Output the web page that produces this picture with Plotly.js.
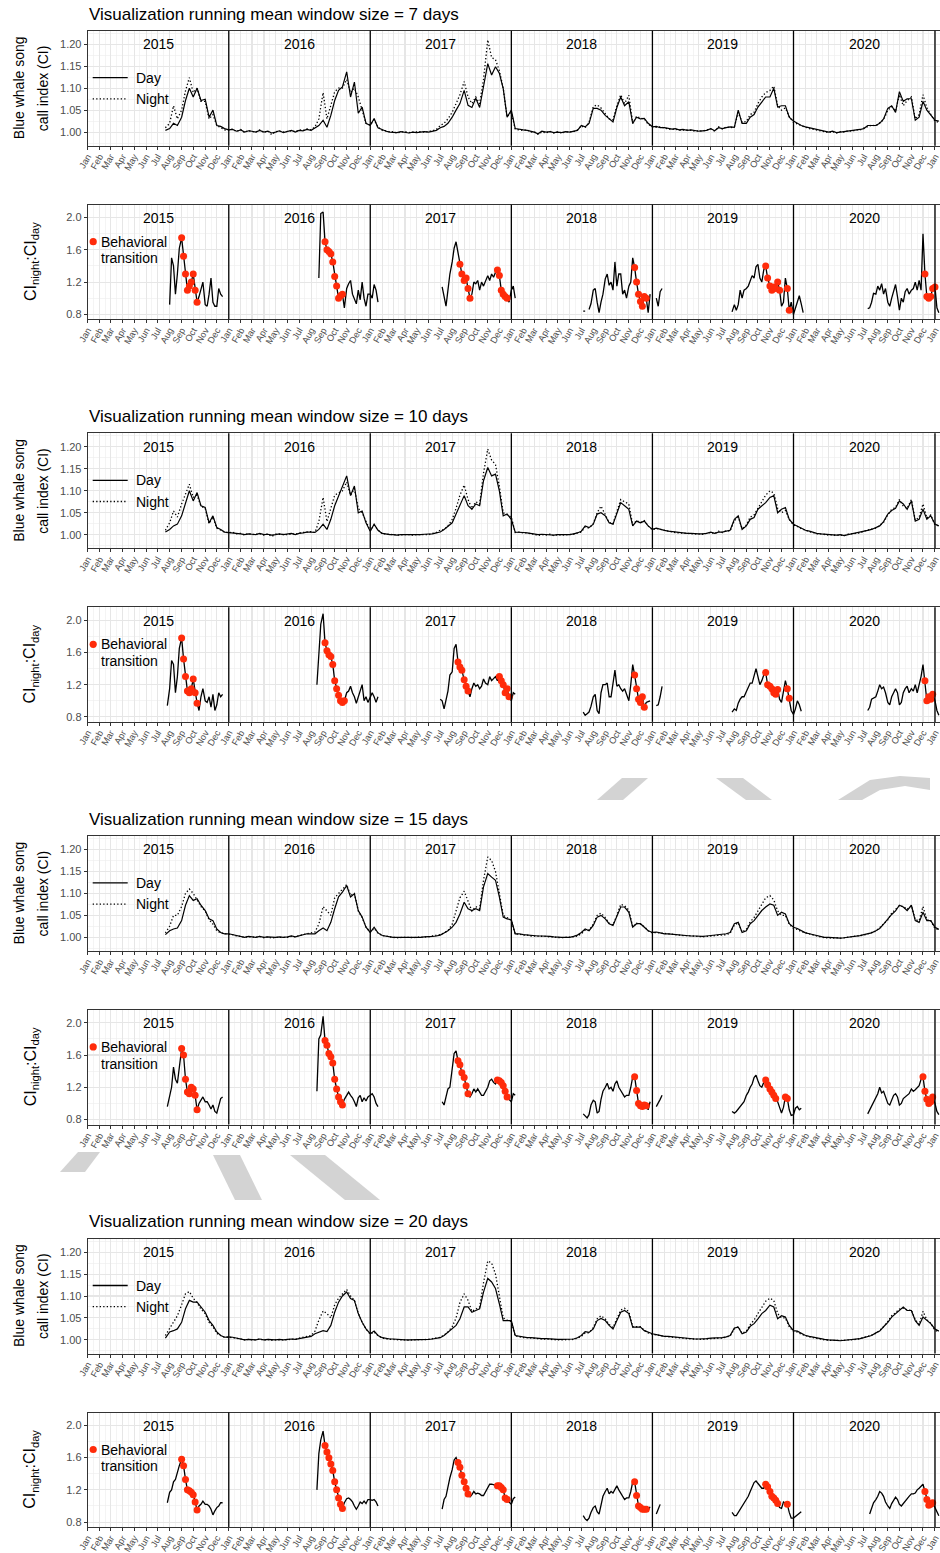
<!DOCTYPE html>
<html><head><meta charset="utf-8">
<script src="https://cdn.plot.ly/plotly-3.0.1.min.js"></script>
<style>html,body{margin:0;padding:0;background:#fff}#chart{width:940px;height:1553px}</style>
</head><body><div id="chart"></div>
<script>
const n = null;
const windowSizes = [7, 10, 15, 20];
const years = [2015, 2016, 2017, 2018, 2019, 2020];
const monthNames = ['Jan','Feb','Mar','Apr','May','Jun','Jul','Aug','Sep','Oct','Nov','Dec'];

// CI values sampled on the 1st, 11th and 21st of every month (Jan 2015 .. Dec 2020), then 2021-01-01, 2021-01-11
const ci7Day = [
n,n,n,n,n,n,n,n,n,n,n,n,n,n,n,n,n,n, n,n,1.004, 1.008,1.02,1.015, 1.034,1.072,1.10, 1.08,1.10,1.072, 1.075,1.034,1.05, 1.015,1.013,1.008,
1.005,1.006,1.002, 1.005,1.0,1.003, 1.002,1.0,1.004, 1.0,1.002,0.998, 1.0,1.003,0.999, 1.001,1.004,1.0, 1.004,1.003,1.006, 1.004,1.01,1.015, 1.027,1.011,1.038, 1.072,1.095,1.103, 1.137,1.08,1.114, 1.043,1.057,1.02,
1.015,1.031,1.01, 1.005,1.002,1.0, 1.0,0.999,1.001, 1.0,0.998,1.0, 0.999,1.0,1.001, 1.0,1.002,1.004, 1.01,1.013,1.02, 1.034,1.05,1.065, 1.095,1.061,1.056, 1.077,1.056,1.103, 1.156,1.13,1.149, 1.134,1.099,1.034,
1.05,1.008,1.006, 1.005,1.004,1.002, 1.0,0.996,1.002, 1.0,1.001,0.999, 1.0,0.999,1.001, 1.0,1.002,1.004, 1.015,1.012,1.02, 1.054,1.054,1.05, 1.038,1.03,1.023, 1.056,1.08,1.06, 1.069,1.02,1.034, 1.03,1.031,1.02,
1.012,1.013,1.01, 1.01,1.008,1.007, 1.008,1.005,1.006, 1.004,1.005,1.003, 1.002,1.003,1.004, 1.008,1.003,1.01, 1.008,1.01,1.012, 1.011,1.05,1.02, 1.02,1.034,1.04, 1.057,1.07,1.08, 1.08,1.10,1.057, 1.06,1.06,1.034,
1.025,1.02,1.015, 1.012,1.01,1.008, 1.005,1.003,1.002, 1.0,1.002,0.999, 1.0,1.001,1.002, 1.003,1.004,1.006, 1.008,1.015,1.015, 1.015,1.02,1.03, 1.054,1.06,1.045, 1.092,1.07,1.076, 1.076,1.027,1.034, 1.07,1.05,1.04,
1.027,1.025];
const ci7Night = [
n,n,n,n,n,n,n,n,n,n,n,n,n,n,n,n,n,n, n,n,1.01, 1.02,1.06,1.03, 1.05,1.094,1.124, 1.09,1.10,1.07, 1.07,1.03,1.04, 1.015,1.01,1.005,
1.004,1.007,1.001, 1.006,0.999,1.004, 1.001,1.0,1.005, 0.999,1.003,0.994, 1.001,1.002,1.0, 1.002,1.003,1.001, 1.005,1.004,1.007, 1.005,1.012,1.03, 1.09,1.03,1.06, 1.092,1.10,1.10, 1.12,1.09,1.10, 1.08,1.05,1.02,
1.016,1.028,1.011, 1.004,1.003,1.0, 1.001,0.998,1.0, 1.001,0.999,1.0, 1.0,1.001,1.0, 1.001,1.003,1.006, 1.015,1.02,1.03, 1.045,1.065,1.085, 1.115,1.08,1.065, 1.08,1.065,1.12, 1.21,1.17,1.165, 1.14,1.10,1.035,
1.045,1.007,1.005, 1.004,1.005,1.0, 1.001,0.995,1.0, 0.998,1.002,0.998, 1.001,0.998,1.0, 1.001,1.001,1.005, 1.014,1.01,1.022, 1.058,1.062,1.055, 1.042,1.03,1.028, 1.06,1.085,1.065, 1.084,1.02,1.036, 1.032,1.03,1.018,
1.012,1.011,1.012, 1.009,1.007,1.006, 1.007,1.004,1.005, 1.005,1.004,1.002, 1.003,1.002,1.005, 1.007,1.002,1.012, 1.007,1.012,1.01, 1.012,1.045,1.022, 1.024,1.04,1.045, 1.065,1.08,1.09, 1.095,1.105,1.06, 1.05,1.055,1.035,
1.022,1.018,1.014, 1.011,1.008,1.006, 1.004,1.002,1.0, 0.999,1.001,0.998, 1.001,1.0,1.003, 1.002,1.005,1.005, 1.009,1.013,1.016, 1.014,1.022,1.028, 1.05,1.058,1.048, 1.085,1.06,1.072, 1.08,1.03,1.04, 1.085,1.055,1.042,
1.025,1.022];
const ci10Day = [
n,n,n,n,n,n,n,n,n,n,n,n,n,n,n,n,n,n, n,n,1.006, 1.012,1.02,1.024, 1.043,1.073,1.10, 1.077,1.096,1.066, 1.062,1.027,1.043, 1.016,1.012,1.006,
1.005,1.005,1.003, 1.002,1.0,1.002, 1.001,1.0,1.003, 1.0,1.001,0.999, 1.0,1.002,1.0, 1.001,1.003,1.0, 1.003,1.004,1.006, 1.006,1.005,1.012, 1.024,1.012,1.035, 1.066,1.089,1.108, 1.134,1.089,1.111, 1.05,1.054,1.027,
1.008,1.024,1.01, 1.003,1.001,1.0, 1.0,0.999,1.0, 1.0,0.999,1.0, 1.0,1.0,1.001, 1.001,1.002,1.004, 1.006,1.012,1.02, 1.027,1.047,1.066, 1.089,1.066,1.058, 1.07,1.066,1.123, 1.153,1.134,1.138, 1.10,1.043,1.047,
1.035,1.006,1.006, 1.005,1.004,1.003, 1.002,1.0,1.001, 1.0,1.0,0.999, 1.0,1.0,1.001, 1.0,1.002,1.004, 1.008,1.02,1.016, 1.024,1.047,1.05, 1.043,1.027,1.024, 1.047,1.073,1.066, 1.058,1.02,1.031, 1.027,1.031,1.02,
1.012,1.015,1.012, 1.01,1.008,1.007, 1.005,1.005,1.004, 1.003,1.003,1.002, 1.002,1.002,1.003, 1.006,1.003,1.006, 1.006,1.008,1.01, 1.035,1.043,1.012, 1.02,1.035,1.039, 1.058,1.066,1.073, 1.085,1.089,1.05, 1.058,1.062,1.035,
1.024,1.02,1.015, 1.01,1.008,1.005, 1.003,1.002,1.001, 1.0,1.0,0.999, 1.0,0.998,1.0, 1.002,1.003,1.005, 1.008,1.01,1.012, 1.016,1.02,1.03, 1.047,1.055,1.06, 1.077,1.07,1.058, 1.077,1.031,1.035, 1.058,1.035,1.043,
1.024,1.02];
const ci10Night = [
n,n,n,n,n,n,n,n,n,n,n,n,n,n,n,n,n,n, n,n,1.01, 1.027,1.054,1.04, 1.07,1.092,1.115, 1.085,1.09,1.065, 1.06,1.025,1.04, 1.015,1.01,1.006,
1.004,1.006,1.002, 1.003,0.999,1.003, 1.0,1.001,1.002, 0.999,1.002,0.996, 1.001,1.001,1.0, 1.0,1.002,1.001, 1.004,1.005,1.005, 1.007,1.005,1.03, 1.085,1.03,1.06, 1.09,1.095,1.10, 1.12,1.09,1.105, 1.06,1.05,1.03,
1.009,1.022,1.011, 1.002,1.002,1.0, 1.001,0.999,1.0, 1.0,1.0,0.999, 1.0,1.0,1.0, 1.0,1.003,1.005, 1.01,1.012,1.02, 1.035,1.06,1.09, 1.113,1.08,1.06, 1.075,1.07,1.14, 1.195,1.17,1.16, 1.11,1.05,1.045,
1.04,1.005,1.006, 1.004,1.004,1.002, 1.001,0.998,1.0, 0.999,1.001,0.998, 1.0,0.999,1.0, 1.0,1.001,1.004, 1.006,1.018,1.015, 1.025,1.05,1.065, 1.045,1.028,1.025, 1.05,1.08,1.075, 1.07,1.022,1.032, 1.028,1.032,1.02,
1.011,1.014,1.012, 1.009,1.007,1.006, 1.005,1.004,1.004, 1.003,1.002,1.002, 1.002,1.001,1.003, 1.005,1.002,1.008, 1.005,1.009,1.008, 1.032,1.04,1.014, 1.022,1.04,1.045, 1.06,1.075,1.09, 1.10,1.095,1.06, 1.05,1.055,1.035,
1.022,1.019,1.014, 1.01,1.007,1.005, 1.002,1.002,1.0, 0.999,1.0,0.998, 0.999,0.998,1.001, 1.002,1.004,1.004, 1.008,1.011,1.013, 1.015,1.022,1.028, 1.045,1.058,1.062, 1.08,1.065,1.06, 1.08,1.033,1.04, 1.07,1.038,1.045,
1.022,1.02];
const ci15Day = [
n,n,n,n,n,n,n,n,n,n,n,n,n,n,n,n,n,n, n,n,1.006, 1.015,1.019,1.021, 1.038,1.073,1.095, 1.084,1.088,1.073, 1.061,1.042,1.038, 1.019,1.011,1.008,
1.008,1.006,1.004, 1.002,1.0,1.002, 1.001,1.0,1.002, 1.0,1.001,1.0, 1.0,1.001,1.0, 1.001,1.003,1.001, 1.003,1.005,1.008, 1.008,1.008,1.015, 1.021,1.015,1.034, 1.065,1.092,1.103, 1.118,1.092,1.099, 1.061,1.046,1.023,
1.011,1.023,1.01, 1.004,1.002,1.001, 1.0,1.0,1.0, 1.0,0.999,1.0, 1.0,1.0,1.001, 1.001,1.002,1.003, 1.005,1.01,1.015, 1.023,1.034,1.053, 1.08,1.065,1.061, 1.065,1.061,1.115, 1.145,1.137,1.13, 1.092,1.046,1.042,
1.04,1.008,1.008, 1.006,1.005,1.004, 1.004,1.003,1.003, 1.003,1.002,1.001, 1.0,1.0,1.0, 1.0,1.002,1.005, 1.011,1.019,1.015, 1.027,1.046,1.05, 1.042,1.031,1.027, 1.046,1.069,1.069, 1.057,1.023,1.031, 1.031,1.023,1.015,
1.011,1.012,1.01, 1.008,1.008,1.007, 1.006,1.005,1.005, 1.004,1.003,1.003, 1.002,1.002,1.003, 1.004,1.004,1.005, 1.006,1.008,1.011, 1.031,1.034,1.011, 1.015,1.031,1.038, 1.05,1.061,1.069, 1.076,1.073,1.05, 1.057,1.053,1.031,
1.023,1.02,1.015, 1.01,1.008,1.006, 1.004,1.002,1.0, 1.0,0.999,0.999, 0.998,0.999,1.0, 1.002,1.003,1.004, 1.006,1.008,1.01, 1.015,1.02,1.03, 1.042,1.052,1.06, 1.073,1.069,1.061, 1.073,1.038,1.034, 1.057,1.038,1.038,
1.023,1.018];
const ci15Night = [
n,n,n,n,n,n,n,n,n,n,n,n,n,n,n,n,n,n, n,n,1.01, 1.025,1.05,1.05, 1.07,1.10,1.11, 1.10,1.085,1.07, 1.06,1.04,1.03, 1.015,1.01,1.008,
1.007,1.006,1.003, 1.002,1.0,1.001, 1.0,1.0,1.002, 0.999,1.001,0.998, 1.0,1.0,1.0, 1.0,1.002,1.001, 1.004,1.006,1.009, 1.01,1.012,1.03, 1.07,1.06,1.05, 1.09,1.10,1.11, 1.12,1.095,1.10, 1.06,1.045,1.023,
1.012,1.02,1.01, 1.004,1.002,1.0, 1.0,0.999,1.0, 1.0,1.0,0.999, 1.0,1.0,1.001, 1.001,1.003,1.004, 1.006,1.01,1.015, 1.03,1.06,1.09, 1.105,1.08,1.06, 1.07,1.065,1.13, 1.183,1.175,1.15, 1.10,1.05,1.045,
1.038,1.007,1.007, 1.005,1.005,1.003, 1.003,1.002,1.002, 1.002,1.001,1.0, 0.999,0.999,1.0, 1.0,1.001,1.003, 1.008,1.016,1.016, 1.03,1.05,1.055, 1.045,1.032,1.028, 1.05,1.075,1.072, 1.062,1.024,1.032, 1.03,1.024,1.015,
1.01,1.011,1.01, 1.008,1.007,1.006, 1.006,1.005,1.004, 1.004,1.003,1.002, 1.002,1.001,1.002, 1.003,1.003,1.004, 1.005,1.006,1.009, 1.028,1.033,1.012, 1.018,1.035,1.045, 1.06,1.075,1.09, 1.095,1.085,1.06, 1.05,1.05,1.03,
1.02,1.018,1.013, 1.01,1.007,1.005, 1.003,1.001,0.999, 0.999,0.998,0.999, 0.998,0.999,1.0, 1.001,1.002,1.004, 1.005,1.008,1.011, 1.014,1.022,1.03, 1.04,1.055,1.063, 1.072,1.07,1.064, 1.072,1.04,1.038, 1.07,1.04,1.038,
1.02,1.017];
const ci20Day = [
n,n,n,n,n,n,n,n,n,n,n,n,n,n,n,n,n,n, n,n,1.004, 1.018,1.021,1.025, 1.04,1.071,1.09, 1.086,1.086,1.075, 1.063,1.044,1.033, 1.018,1.01,1.006,
1.007,1.006,1.004, 1.002,1.0,1.001, 1.001,1.0,1.002, 1.0,1.001,1.0, 1.0,1.001,1.0, 1.001,1.002,1.001, 1.003,1.005,1.007, 1.008,1.014,1.018, 1.021,1.019,1.033, 1.063,1.086,1.10, 1.109,1.094,1.09, 1.06,1.04,1.025,
1.014,1.02,1.01, 1.005,1.003,1.002, 1.002,1.001,1.0, 1.0,1.0,1.0, 1.0,1.0,1.001, 1.001,1.002,1.003, 1.005,1.01,1.018, 1.025,1.033,1.048, 1.075,1.075,1.063, 1.067,1.071,1.109, 1.14,1.132,1.117, 1.082,1.044,1.044,
1.044,1.01,1.008, 1.006,1.005,1.005, 1.004,1.004,1.003, 1.003,1.002,1.002, 1.001,1.001,1.001, 1.001,1.002,1.005, 1.01,1.019,1.017, 1.025,1.044,1.049, 1.044,1.033,1.025, 1.044,1.063,1.067, 1.06,1.029,1.029, 1.029,1.021,1.017,
1.014,1.012,1.01, 1.008,1.008,1.007, 1.006,1.005,1.004, 1.003,1.003,1.002, 1.002,1.002,1.003, 1.004,1.004,1.004, 1.005,1.007,1.01, 1.027,1.029,1.014, 1.018,1.031,1.037, 1.048,1.06,1.067, 1.079,1.075,1.048, 1.055,1.052,1.033,
1.021,1.02,1.015, 1.01,1.008,1.006, 1.004,1.002,1.001, 1.0,1.0,0.999, 0.998,0.999,1.0, 1.0,1.002,1.003, 1.005,1.007,1.01, 1.016,1.02,1.03, 1.04,1.052,1.06, 1.067,1.075,1.067, 1.067,1.044,1.033, 1.052,1.044,1.037,
1.025,1.02];
const ci20Night = [
n,n,n,n,n,n,n,n,n,n,n,n,n,n,n,n,n,n, n,n,1.01, 1.025,1.04,1.055, 1.08,1.105,1.11, 1.095,1.085,1.07, 1.06,1.04,1.03, 1.015,1.01,1.006,
1.006,1.005,1.003, 1.002,1.0,1.001, 1.0,1.0,1.002, 0.999,1.001,0.999, 1.0,1.0,1.0, 1.0,1.002,1.001, 1.004,1.006,1.008, 1.01,1.02,1.045, 1.066,1.06,1.05, 1.08,1.095,1.105, 1.115,1.10,1.09, 1.06,1.04,1.025,
1.013,1.018,1.01, 1.004,1.002,1.001, 1.001,1.0,1.0, 1.0,0.999,1.0, 1.0,1.0,1.001, 1.001,1.003,1.004, 1.006,1.011,1.018, 1.03,1.05,1.085, 1.105,1.09,1.065, 1.07,1.075,1.13, 1.18,1.175,1.15, 1.10,1.05,1.045,
1.042,1.009,1.007, 1.005,1.005,1.004, 1.003,1.003,1.002, 1.002,1.001,1.001, 1.0,1.0,1.0, 1.0,1.001,1.004, 1.008,1.016,1.016, 1.028,1.048,1.055, 1.048,1.035,1.028, 1.048,1.068,1.072, 1.064,1.03,1.03, 1.03,1.022,1.016,
1.013,1.011,1.009, 1.008,1.007,1.006, 1.005,1.004,1.003, 1.003,1.002,1.002, 1.001,1.001,1.002, 1.003,1.003,1.004, 1.004,1.006,1.009, 1.025,1.03,1.015, 1.02,1.035,1.045, 1.06,1.075,1.088, 1.095,1.09,1.06, 1.05,1.05,1.03,
1.019,1.018,1.013, 1.009,1.007,1.005, 1.003,1.001,1.0, 0.999,0.999,0.998, 0.998,0.999,1.0, 1.0,1.001,1.003, 1.005,1.008,1.011, 1.015,1.022,1.03, 1.042,1.055,1.062, 1.07,1.072,1.068, 1.068,1.046,1.035, 1.065,1.046,1.038,
1.022,1.018];

// CI night : CI day, sampled every 5 days (1,6,11,16,21,26) from July of each year to January of the next
const ratio7 = [
n,n,n,n,n,n, 0.92,1.5,1.4,1.05,1.3,1.62, 1.75,1.52,1.3,1.1,1.15,1.2, 1.3,1.1,0.95,1.02,1.1,1.2, 0.92,0.9,1.05,1.25,0.95,0.9, 0.9,1.12,1.05,1.02,n,n, n,n,n,n,n,n,
n,n,n,n,n,n, n,n,n,n,1.25,2.05, 2.07,1.7,1.6,1.58,1.55,1.45, 1.27,1.15,1.0,1.03,1.05,0.88, 1.12,1.18,1.22,1.05,1.0,0.93, 1.1,0.98,1.2,1.0,0.9,1.05, 1.05,1.0,1.17,1.1,0.95,n,
n,1.14,1.0,0.9,1.1,1.3, 1.45,1.62,1.7,1.55,1.42,1.3, 1.22,1.25,1.12,1.0,1.05,1.2, 1.18,1.22,1.1,1.2,1.15,1.22, 1.28,1.22,1.3,1.26,1.32,1.35, 1.28,1.1,1.05,1.02,1.0,0.95, 1.1,1.15,1.0,n,n,n,
n,0.84,0.84,n,0.86,0.93, 1.1,1.12,0.95,0.82,0.95,1.05, 1.24,1.3,1.16,1.2,1.1,1.45, 1.15,1.3,1.3,1.05,1.1,1.0, 1.15,1.2,1.5,1.38,1.2,1.05, 0.96,0.9,1.02,1.0,0.82,1.05, n,n,1.0,0.9,1.08,1.12,
n,n,n,n,n,0.83, 0.92,0.85,0.92,1.1,1.0,1.1, 1.12,1.15,1.22,1.28,1.25,1.39, 1.42,1.25,1.2,1.35,1.4,1.25, 1.15,1.1,1.14,1.12,1.2,1.1, 0.9,0.95,1.25,1.12,0.85,0.95, 0.8,0.88,0.95,1.03,0.93,0.82,
n,n,0.87,0.88,0.95,1.06, 1.05,1.15,1.1,1.18,1.05,1.12, 0.95,0.9,1.0,1.1,1.17,1.02, 0.85,1.0,0.95,1.08,1.12,1.05, 1.1,1.12,1.2,1.1,1.22,1.1, 1.8,1.3,1.02,1.0,1.02,1.12, 1.14,0.88,0.82,n,n,n];
const ratio10 = [
n,n,n,n,n,0.94, 1.15,1.5,1.45,1.1,1.3,1.65, 1.78,1.52,1.3,1.12,1.1,1.15, 1.27,1.1,0.97,0.88,1.05,1.15, 1.0,0.98,1.05,0.92,1.08,0.88, 0.95,1.1,1.05,1.08,n,n, n,n,n,n,n,n,
n,n,n,n,n,n, n,n,n,1.2,1.6,1.95, 2.08,1.72,1.62,1.57,1.55,1.45, 1.25,1.15,1.07,1.0,0.98,1.0, 1.1,1.12,1.18,1.1,1.05,0.97, 1.05,1.1,1.2,1.0,1.05,0.98, 1.05,1.1,1.05,0.98,1.05,n,
1.02,1.0,0.9,1.0,1.12,1.32, 1.36,1.65,1.7,1.48,1.42,1.38, 1.26,1.18,1.12,1.05,1.15,1.22, 1.18,1.2,1.15,1.18,1.27,1.22, 1.2,1.3,1.25,1.28,1.3,1.25, 1.3,1.25,1.2,1.1,1.15,1.05, 1.0,1.1,1.08,n,n,n,
n,0.86,0.82,0.84,0.86,0.93, 1.05,1.08,0.88,0.84,1.1,1.2, 1.2,1.22,1.05,1.05,1.2,1.38, 1.18,1.2,1.15,1.12,1.15,1.08, 1.0,1.2,1.45,1.32,1.15,1.02, 0.98,1.05,0.92,0.98,0.99,1.0, n,n,0.94,0.95,1.05,1.18,
n,n,n,n,n,0.86, 0.9,0.88,0.97,1.02,1.05,1.05, 1.12,1.18,1.22,1.22,1.32,1.4, 1.3,1.2,1.25,1.32,1.35,1.2, 1.18,1.15,1.1,1.08,1.14,1.02, 0.98,1.1,1.25,1.15,1.03,0.88, 0.83,0.9,1.0,0.95,0.87,n,
n,n,0.88,0.92,1.02,1.03, 1.05,1.12,1.2,1.15,1.17,1.1, 0.98,0.95,1.05,1.1,1.15,1.1, 0.95,0.98,1.1,1.15,1.18,1.1, 1.15,1.12,1.2,1.1,1.2,1.3, 1.45,1.25,1.0,1.05,1.02,1.08, 1.0,0.88,0.82,n,n,n];
const ratio15 = [
n,n,n,n,n,0.96, 1.08,1.2,1.45,1.3,1.25,1.45, 1.68,1.6,1.3,1.14,1.12,1.2, 1.18,1.1,0.92,1.0,1.05,1.08, 1.02,1.02,0.98,0.93,0.98,0.9, 0.88,0.98,1.06,1.08,n,n, n,n,n,n,n,n,
n,n,n,n,n,n, n,n,n,1.15,1.8,1.85, 2.08,1.78,1.72,1.62,1.58,1.5, 1.3,1.18,1.08,1.02,0.98,1.05, 1.1,1.14,1.1,1.07,1.02,0.96, 1.07,1.1,1.02,1.07,1.03,1.08, 1.1,1.12,1.08,1.0,0.96,n,
n,1.02,0.98,1.08,1.18,1.2, 1.4,1.62,1.65,1.53,1.48,1.38, 1.32,1.22,1.12,1.08,1.12,1.18, 1.14,1.18,1.14,1.1,1.1,1.15, 1.2,1.28,1.3,1.26,1.24,1.29, 1.28,1.26,1.22,1.15,1.08,1.05, 1.02,1.12,1.1,n,n,n,
n,0.87,0.84,0.82,0.86,0.98, 1.04,1.02,0.88,0.9,1.05,1.15, 1.2,1.25,1.18,1.2,1.15,1.24, 1.28,1.2,1.16,1.12,1.08,1.1, 1.1,1.2,1.33,1.33,1.16,1.0, 0.97,0.96,0.98,0.97,0.92,1.02, n,n,0.96,1.0,1.05,1.1,
n,n,n,n,n,0.9, 0.88,0.9,0.93,0.96,0.98,1.02, 1.1,1.14,1.2,1.24,1.32,1.35, 1.28,1.22,1.2,1.26,1.29,1.23, 1.18,1.14,1.1,1.06,1.02,0.95, 0.88,0.95,1.08,1.06,0.92,0.85, 0.86,0.94,0.96,0.92,0.94,n,
n,n,0.87,0.92,0.98,1.02, 1.07,1.12,1.2,1.13,1.15,1.08, 1.0,0.98,1.05,1.1,1.12,1.08, 0.98,1.0,1.06,1.08,1.1,1.12, 1.18,1.15,1.17,1.2,1.22,1.3, 1.33,1.15,1.05,1.0,1.02,1.08, 1.0,0.9,0.86,n,n,n];
const ratio20 = [
n,n,n,n,n,1.04, 1.17,1.2,1.3,1.33,1.42,1.5, 1.58,1.5,1.33,1.2,1.19,1.17, 1.14,1.05,0.95,1.0,1.02,1.06, 1.02,1.02,1.0,0.96,0.89,0.94, 0.98,1.0,1.04,1.04,n,n, n,n,n,n,n,n,
n,n,n,n,n,n, n,n,n,1.2,1.65,1.82, 1.93,1.75,1.67,1.6,1.52,1.44, 1.3,1.2,1.1,1.02,0.97,1.04, 1.09,1.1,1.08,1.05,1.0,0.96, 1.0,1.05,1.03,1.06,1.03,1.08, 1.08,1.07,1.08,1.05,1.0,n,
n,0.96,1.08,1.12,1.25,1.35, 1.45,1.57,1.6,1.54,1.48,1.38, 1.3,1.22,1.15,1.11,1.14,1.18, 1.15,1.16,1.15,1.13,1.13,1.17, 1.22,1.27,1.27,1.26,1.26,1.25, 1.25,1.23,1.2,1.1,1.08,1.05, 1.02,1.09,1.11,n,n,n,
n,0.88,0.84,0.82,0.85,0.92, 0.98,1.0,0.93,0.9,1.02,1.12, 1.18,1.22,1.15,1.18,1.16,1.2, 1.25,1.2,1.16,1.12,1.08,1.1, 1.1,1.18,1.3,1.3,1.13,1.0, 0.98,0.96,0.96,0.96,0.95,0.99, n,n,0.9,0.95,1.02,n,
n,n,n,n,n,0.92, 0.88,0.88,0.92,0.96,0.99,1.04, 1.09,1.12,1.18,1.24,1.29,1.31, 1.28,1.26,1.22,1.22,1.27,1.24, 1.18,1.12,1.1,1.07,1.03,0.98, 0.97,1.05,1.04,1.02,0.92,0.85, 0.85,0.87,0.89,0.91,0.93,n,
n,n,n,0.9,0.98,1.04, 1.08,1.12,1.18,1.16,1.12,1.05, 1.0,0.97,1.03,1.08,1.11,1.08, 1.02,1.0,1.03,1.06,1.1,1.12, 1.15,1.15,1.16,1.2,1.22,1.25, 1.27,1.18,1.08,1.01,1.02,1.04, 0.98,0.92,0.88,n,n,n];

// periods flagged as behavioral transition
const red7 = [['2015-09-01','2015-10-11'],['2016-09-06','2016-10-21'],['2017-08-21','2017-09-16'],['2017-11-26','2017-12-21'],['2018-11-16','2018-12-16'],['2019-10-21','2019-11-26'],['2019-12-16','2019-12-21'],['2020-12-06','2021-01-01']];
const red10 = [['2015-09-01','2015-10-11'],['2016-09-06','2016-10-26'],['2017-08-16','2017-09-11'],['2017-12-01','2017-12-26'],['2018-11-16','2018-12-11'],['2019-10-21','2019-11-21'],['2019-12-16','2019-12-21'],['2020-12-06','2020-12-26']];
const red15 = [['2015-09-01','2015-10-11'],['2016-09-06','2016-10-21'],['2017-08-16','2017-09-11'],['2017-11-26','2017-12-21'],['2018-11-16','2018-12-16'],['2019-10-21','2019-11-16'],['2019-12-11','2019-12-16'],['2020-12-01','2020-12-26']];
const red20 = [['2015-09-01','2015-10-11'],['2016-09-06','2016-10-21'],['2017-08-16','2017-09-11'],['2017-11-26','2017-12-21'],['2018-11-16','2018-12-16'],['2019-10-21','2019-11-21'],['2019-12-16','2019-12-16'],['2020-12-06','2020-12-26']];

const ciDaySeries = [ci7Day, ci10Day, ci15Day, ci20Day];
const ciNightSeries = [ci7Night, ci10Night, ci15Night, ci20Night];
const ratioSeries = [ratio7, ratio10, ratio15, ratio20];
const redPeriods = [red7, red10, red15, red20];

// ---------- date grids ----------
const pad = v => (v < 10 ? '0' : '') + v;
const ciDates = [];
years.forEach(y => { for (let m = 1; m <= 12; m++) [1, 11, 21].forEach(d => ciDates.push(`${y}-${pad(m)}-${pad(d)}`)); });
ciDates.push('2021-01-01', '2021-01-11');
const ratioDates = [];
years.forEach(y => {
  for (let m = 7; m <= 12; m++) [1, 6, 11, 16, 21, 26].forEach(d => ratioDates.push(`${y}-${pad(m)}-${pad(d)}`));
  [1, 6, 11, 16, 21, 26].forEach(d => ratioDates.push(`${y + 1}-01-${pad(d)}`));
});
const tickVals = [], tickText = [], minorVals = [];
years.forEach(y => { for (let m = 1; m <= 12; m++) { tickVals.push(`${y}-${pad(m)}-01`); tickText.push(monthNames[m - 1]); minorVals.push(`${y}-${pad(m)}-16`); } });
tickVals.push('2021-01-01'); tickText.push('Jan');

// ---------- layout geometry ----------
const W = 940, H = 1553, OFF = 402.6;
const FONT = 'Liberation Sans, Arial, Helvetica, sans-serif';
const px = x => x / W, py = y => 1 - y / H;
const GRID = '#e6e6e6', GRIDMINOR = '#ededed', AXC = '#333333', TICKC = '#4d4d4d', RED = '#ff2b0a';
const NIGHTDASH = '1.3px,2.2px';

const traces = [];
const layout = {
  width: W, height: H, margin: {l: 0, r: 0, t: 0, b: 0},
  paper_bgcolor: '#ffffff', plot_bgcolor: '#ffffff', showlegend: false,
  font: {family: FONT, color: '#000'},
  shapes: [], annotations: []
};

function xAxisDef(anchor) {
  return {
    type: 'date', domain: [87.7 / W, 1], range: ['2015-01-01', '2021-01-14'], anchor: anchor,
    tickmode: 'array', tickvals: tickVals, ticktext: tickText, tickangle: -60, ticklabeloverflow: 'allow', ticklabelstandoff: -2,
    tickfont: {size: 9.2, color: TICKC, family: FONT}, ticks: 'outside', ticklen: 3, tickwidth: 1, tickcolor: AXC,
    showgrid: true, gridcolor: GRID, gridwidth: 1.1,
    minor: {tickmode: 'array', tickvals: minorVals, showgrid: true, gridcolor: GRIDMINOR, gridwidth: 0.6},
    showline: true, linecolor: AXC, linewidth: 1, mirror: true, zeroline: false, fixedrange: true
  };
}
function yAxisDef(anchor, dom, range, tv, tt, mv) {
  return {
    domain: dom, range: range, anchor: anchor, tickmode: 'array', tickvals: tv, ticktext: tt,
    tickfont: {size: 11, color: TICKC, family: FONT}, ticks: 'outside', ticklen: 3, tickwidth: 1, tickcolor: AXC,
    showgrid: true, gridcolor: GRID, gridwidth: 1.1,
    minor: {tickmode: 'array', tickvals: mv, showgrid: true, gridcolor: GRIDMINOR, gridwidth: 0.6},
    showline: true, linecolor: AXC, linewidth: 1, zeroline: false, fixedrange: true
  };
}

windowSizes.forEach((ws, k) => {
  const o = k * OFF;
  const ia = 2 * k + 1, ib = 2 * k + 2;
  const xa = 'x' + (ia === 1 ? '' : ia), ya = 'y' + (ia === 1 ? '' : ia);
  const xb = 'x' + ib, yb = 'y' + ib;
  const ciTop = 30.7 + o, ciBot = 145.7 + o, rTop = 204.7 + o, rBot = 319.3 + o;

  layout['xaxis' + (ia === 1 ? '' : ia)] = xAxisDef(ya);
  layout['yaxis' + (ia === 1 ? '' : ia)] = yAxisDef(xa, [py(ciBot), py(ciTop)], [0.969, 1.231],
    [1.00, 1.05, 1.10, 1.15, 1.20], ['1.00', '1.05', '1.10', '1.15', '1.20'], [0.975, 1.025, 1.075, 1.125, 1.175, 1.225]);
  layout['xaxis' + ib] = xAxisDef(yb);
  layout['yaxis' + ib] = yAxisDef(xb, [py(rBot), py(rTop)], [0.738, 2.16],
    [0.8, 1.2, 1.6, 2.0], ['0.8', '1.2', '1.6', '2.0'], [1.0, 1.4, 1.8]);

  traces.push({type: 'scatter', mode: 'lines', name: 'Night', x: ciDates, y: ciNightSeries[k], xaxis: xa, yaxis: ya,
    line: {color: '#000', width: 1.3, dash: NIGHTDASH}, connectgaps: false, hoverinfo: 'skip'});
  traces.push({type: 'scatter', mode: 'lines', name: 'Day', x: ciDates, y: ciDaySeries[k], xaxis: xa, yaxis: ya,
    line: {color: '#000', width: 1.2}, connectgaps: false, hoverinfo: 'skip'});
  traces.push({type: 'scatter', mode: 'lines', name: 'ratio', x: ratioDates, y: ratioSeries[k], xaxis: xb, yaxis: yb,
    line: {color: '#000', width: 1.3}, connectgaps: false, hoverinfo: 'skip'});
  const rx = [], ry = [];
  ratioDates.forEach((d, i) => {
    const v = ratioSeries[k][i];
    if (v !== null && redPeriods[k].some(p => d >= p[0] && d <= p[1])) { rx.push(d); ry.push(v); }
  });
  traces.push({type: 'scatter', mode: 'markers', name: 'Behavioral transition', x: rx, y: ry, xaxis: xb, yaxis: yb,
    marker: {color: RED, size: 7, line: {width: 0}}, hoverinfo: 'skip'});

  // year separators and year labels
  [[xa, ya], [xb, yb]].forEach(([xr, yr], j) => {
    years.concat([2021]).forEach(y => {
      if (y > 2015) layout.shapes.push({type: 'line', xref: xr, yref: yr + ' domain', x0: `${y}-01-01`, x1: `${y}-01-01`, y0: 0, y1: 1,
        line: {color: '#000', width: 1.3}});
    });
    years.forEach(y => layout.annotations.push({xref: xr, yref: yr + ' domain', x: `${y}-07-02`, y: j === 0 ? 1 - 13.5 / 115 : 1 - 13.5 / 114.6,
      text: String(y), showarrow: false, xanchor: 'center', yanchor: 'middle', font: {size: 14, color: '#000', family: FONT}}));
  });

  // section title
  layout.annotations.push({xref: 'paper', yref: 'paper', x: px(86.5), y: py(14 + o), xanchor: 'left', yanchor: 'middle', showarrow: false,
    text: `Visualization running mean window size = ${ws} days`, font: {size: 17, color: '#000', family: FONT}});
  // y-axis titles
  layout.annotations.push({xref: 'paper', yref: 'paper', x: px(19), y: py((ciTop + ciBot) / 2), textangle: -90, showarrow: false,
    xanchor: 'center', yanchor: 'middle', text: 'Blue whale song', font: {size: 14, color: '#000', family: FONT}});
  layout.annotations.push({xref: 'paper', yref: 'paper', x: px(43), y: py((ciTop + ciBot) / 2), textangle: -90, showarrow: false,
    xanchor: 'center', yanchor: 'middle', text: 'call index (CI)', font: {size: 14, color: '#000', family: FONT}});
  layout.annotations.push({xref: 'paper', yref: 'paper', x: px(31), y: py((rTop + rBot) / 2), textangle: -90, showarrow: false,
    xanchor: 'center', yanchor: 'middle', text: 'CI<sub>night</sub>:CI<sub>day</sub>', font: {size: 16, color: '#000', family: FONT}});

  // legends (drawn as keys inside the panels)
  layout.shapes.push({type: 'line', xref: 'paper', yref: 'paper', x0: px(92.7), x1: px(127.7), y0: py(77.7 + o), y1: py(77.7 + o), line: {color: '#000', width: 1.3}});
  layout.shapes.push({type: 'line', xref: 'paper', yref: 'paper', x0: px(92.7), x1: px(127.7), y0: py(98.9 + o), y1: py(98.9 + o), line: {color: '#000', width: 1.3, dash: NIGHTDASH}});
  layout.annotations.push({xref: 'paper', yref: 'paper', x: px(133.5), y: py(77.7 + o), xanchor: 'left', yanchor: 'middle', showarrow: false, text: 'Day', font: {size: 14, color: '#000', family: FONT}});
  layout.annotations.push({xref: 'paper', yref: 'paper', x: px(133.5), y: py(98.9 + o), xanchor: 'left', yanchor: 'middle', showarrow: false, text: 'Night', font: {size: 14, color: '#000', family: FONT}});
  layout.shapes.push({type: 'circle', xref: 'paper', yref: 'paper', x0: px(89.6), x1: px(96.8), y0: py(245.3 + o), y1: py(238.1 + o), fillcolor: RED, line: {width: 0}});
  layout.annotations.push({xref: 'paper', yref: 'paper', x: px(99), y: py(241.7 + o), xanchor: 'left', yanchor: 'middle', showarrow: false, text: 'Behavioral', font: {size: 14, color: '#000', family: FONT}});
  layout.annotations.push({xref: 'paper', yref: 'paper', x: px(99), y: py(258.3 + o), xanchor: 'left', yanchor: 'middle', showarrow: false, text: 'transition', font: {size: 14, color: '#000', family: FONT}});
});

// faint watermark fragments visible in the gaps between panels
const wm = [
  [[597,800],[623,800],[648,778],[622,778]],
  [[716,778],[743,778],[772,800],[746,800]],
  [[838,800],[862,800],[880,790],[905,786],[930,790],[930,778],[900,776],[870,780]],
  [[60,1172],[78,1152],[100,1152],[85,1172]],
  [[213,1155],[240,1155],[262,1200],[235,1200]],
  [[290,1155],[325,1155],[380,1200],[345,1200]]
];
wm.forEach(poly => {
  const path = 'M ' + poly.map(p => px(p[0]) + ',' + py(p[1])).join(' L ') + ' Z';
  layout.shapes.push({type: 'path', xref: 'paper', yref: 'paper', path: path, fillcolor: '#d3d3d3', line: {width: 0}, layer: 'below'});
});

Plotly.newPlot('chart', traces, layout, {staticPlot: true, displayModeBar: false});
</script>
</body></html>
